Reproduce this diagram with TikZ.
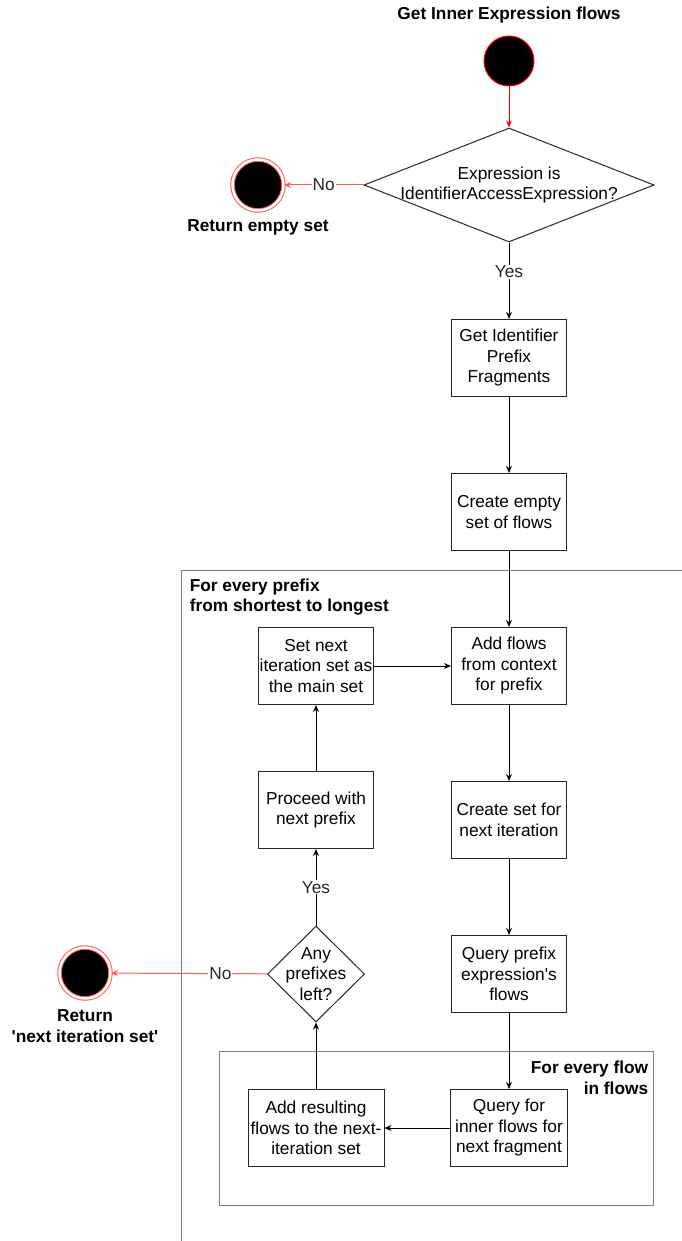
\documentclass[tikz,border=0pt]{standalone}
\usepackage{fontspec}
\setmainfont{Liberation Sans}
\usetikzlibrary{shapes.geometric,arrows.meta}

\begin{document}
\begin{tikzpicture}[x=1pt, y=-1pt, line width=1pt, >={Stealth[length=7pt,width=6pt]},
    font=\fontsize{17.3}{20.5}\selectfont,
    box/.style={rectangle,draw=black!85,minimum width=115pt,minimum height=77pt,inner sep=1pt,align=center},
    decision/.style={diamond,draw=black!85,inner sep=0pt},
    startc/.style={circle,draw=red,fill=black,minimum size=50pt,inner sep=0pt},
    endc/.style={circle,draw=red!65,double=white,double distance=2.5pt,fill=black,minimum size=51pt,inner sep=0pt},
    heading/.style={font=\fontsize{17.3}{20.5}\selectfont\bfseries,align=center},
    loopframe/.style={draw=black!50},
    nolink/.style={->,draw=red!65},
  ]
    \useasboundingbox (0,0) rectangle (682,1241);

    % loops
    \draw[loopframe] (682,570) -- (181,570) -- (181,1241);
    \node[heading, anchor=west, align=left] (outert) at (186,597) {For every prefix\\from shortest to longest};
    \draw[loopframe] (219,1051) rectangle (653,1205);
    \node[heading, anchor=east, align=right] (innert) at (652,1078) {For every flow\\in flows};

    \node[heading] (hd) at (509,15) {Get Inner Expression flows};
    \node[startc] (st) at (509,61) {};
    \node[decision, minimum width=290pt, minimum height=114pt,
          label={[align=center]center:Expression is\\IdentifierAccessExpression?}] (isid) at (509,185) {};
    \node[endc] (e1) at (258,185) {};
    \node[heading] (e1t) at (258,227) {Return empty set};

    \node[box] (frag) at (509,358) {Get Identifier\\Prefix\\Fragments};
    \node[box] (empty) at (509,512) {Create empty\\set of flows};
    \node[box] (add) at (509,666) {Add flows\\from context\\for prefix};
    \node[box] (setnext) at (316,666) {Set next\\iteration set as\\the main set};
    \node[box] (mkset) at (509,820) {Create set for\\next iteration};
    \node[box] (proceed) at (316,810) {Proceed with\\next prefix};
    \node[box] (qprefix) at (509,974) {Query prefix\\expression\textquotesingle s\\flows};
    \node[decision, minimum width=97pt, minimum height=96pt,
          label={[align=center]center:Any\\prefixes\\left?}] (left) at (316,974) {};
    \node[endc] (e2) at (85,973) {};
    \node[heading] (e2t) at (85,1026) {Return\\\textquotesingle next iteration set\textquotesingle};
    \node[box, minimum width=117pt] (qinner) at (509,1128) {Query for\\inner flows for\\next fragment};
    \node[box, minimum width=136pt] (addres) at (316,1128) {Add resulting\\flows to the next-\\iteration set};

    % links
    \draw[->,red] (st) -- (isid);
    \draw[nolink] (isid) -- node[fill=white,inner sep=1pt,text=black!85] {No} (e1);
    \draw[->] (isid) -- node[fill=white,inner sep=1pt,pos=0.38,text=black!85] {Yes} (frag);
    \draw[->] (frag) -- (empty);
    \draw[->] (empty) -- (add);
    \draw[->] (setnext) -- (add);
    \draw[->] (add) -- (mkset);
    \draw[->] (mkset) -- (qprefix);
    \draw[->] (qprefix) -- (qinner);
    \draw[->] (qinner) -- (addres);
    \draw[->] (addres) -- (left);
    \draw[->] (left) -- node[fill=white,inner sep=1pt,text=black!85] {Yes} (proceed);
    \draw[->] (proceed) -- (setnext);
    \draw[nolink] (left) -- node[fill=white,inner sep=1pt,pos=0.3,text=black!85] {No} (e2);
\end{tikzpicture}
\end{document}
